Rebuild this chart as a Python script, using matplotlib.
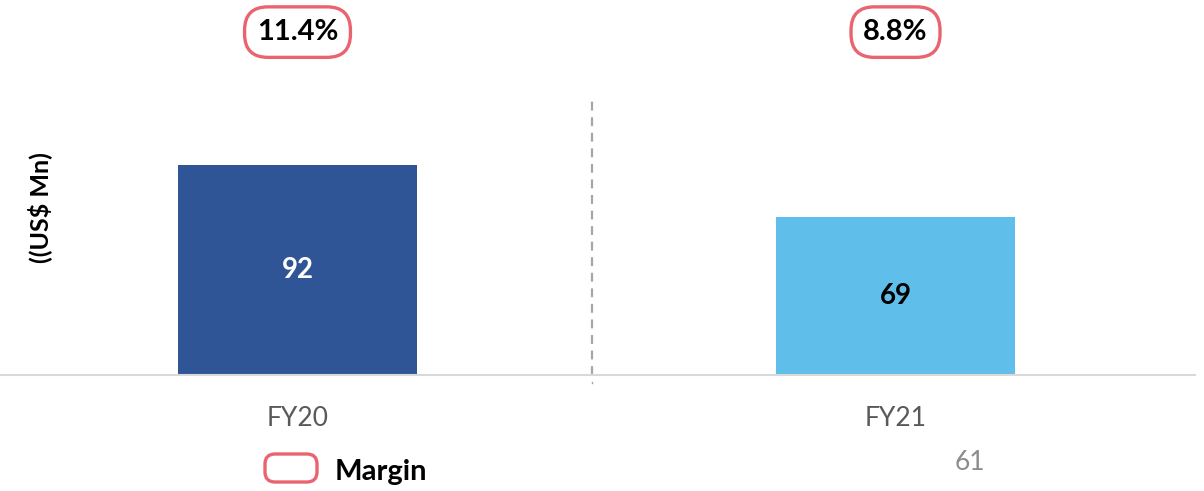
import matplotlib.pyplot as plt
from matplotlib.patches import FancyBboxPatch

categories = ['FY20', 'FY21']
values = [92, 69]
margins = ['11.4%', '8.8%']
bar_colors = ['#2F5597', '#5FBFEA']
value_colors = ['white', 'black']
page_number = '61'

plt.rcParams['font.family'] = ['Lato', 'DejaVu Sans']
red = '#E9646E'

W, H = 1204, 491
fig = plt.figure(figsize=(W / 100, H / 100), dpi=100)
# axes placed in pixel terms: baseline at y=375 from top, top at y=96
ax = fig.add_axes([0, 116 / H, 1195 / W, 279 / H])

x = list(range(len(categories)))
ax.bar(x, values, width=0.4, color=bar_colors, zorder=2)
ax.set_xlim(-0.4975, 1.5008)
ax.set_ylim(0, 122.2)

for xi, v, c in zip(x, values, value_colors):
    ax.text(xi, v / 2, str(v), ha='center', va='center', color=c,
            fontsize=20, fontweight='bold')

# margin boxes above the plot
for xi, m in zip(x, margins):
    ax.annotate(m, xy=(xi, 1), xycoords=('data', 'axes fraction'),
                xytext=(0, 46), textcoords='offset points',
                ha='center', va='center', fontsize=21, fontweight='bold',
                bbox=dict(boxstyle='round,pad=0.42,rounding_size=0.8',
                          fc='white', ec=red, lw=2.4),
                annotation_clip=False)

# dashed divider between the years
div_x = 0.4925
ax.plot([div_x, div_x], [0, 122.2], color='#A6A6A6', lw=1.6,
        ls=(0, (4, 3)), clip_on=False, zorder=1)
ax.plot([div_x, div_x], [-3.5, -3.0], color='#A6A6A6', lw=1.0, clip_on=False)

for s in ['top', 'right', 'left']:
    ax.spines[s].set_visible(False)
ax.spines['bottom'].set_color('#D9D9D9')
ax.spines['bottom'].set_linewidth(1.5)
ax.set_yticks([])
ax.set_xticks(x)
ax.set_xticklabels(categories, fontsize=19, color='#595959')
ax.tick_params(axis='x', length=0, pad=22)

fig.text(40 / W, 1 - 208 / H, '((US$ Mn)', rotation=90, ha='center',
         va='center', fontsize=18, fontweight='bold')

# legend: rounded marker box drawn in its own pixel-sized axes
lax = fig.add_axes([262 / W, 1 - 485 / H, 58 / W, 34 / H])
lax.set_xlim(0, 58)
lax.set_ylim(0, 34)
lax.axis('off')
lax.add_patch(FancyBboxPatch((3, 3), 52, 28,
                             boxstyle='round,pad=0,rounding_size=10',
                             fc='white', ec=red, lw=2.4))
fig.text(335 / W, 1 - 472 / H, 'Margin', ha='left', va='center',
         fontsize=21, fontweight='bold')
fig.text(970 / W, 1 - 463 / H, page_number, ha='center', va='center',
         fontsize=19, color='#8C8C8C')

fig.savefig('out.png', dpi=100)
